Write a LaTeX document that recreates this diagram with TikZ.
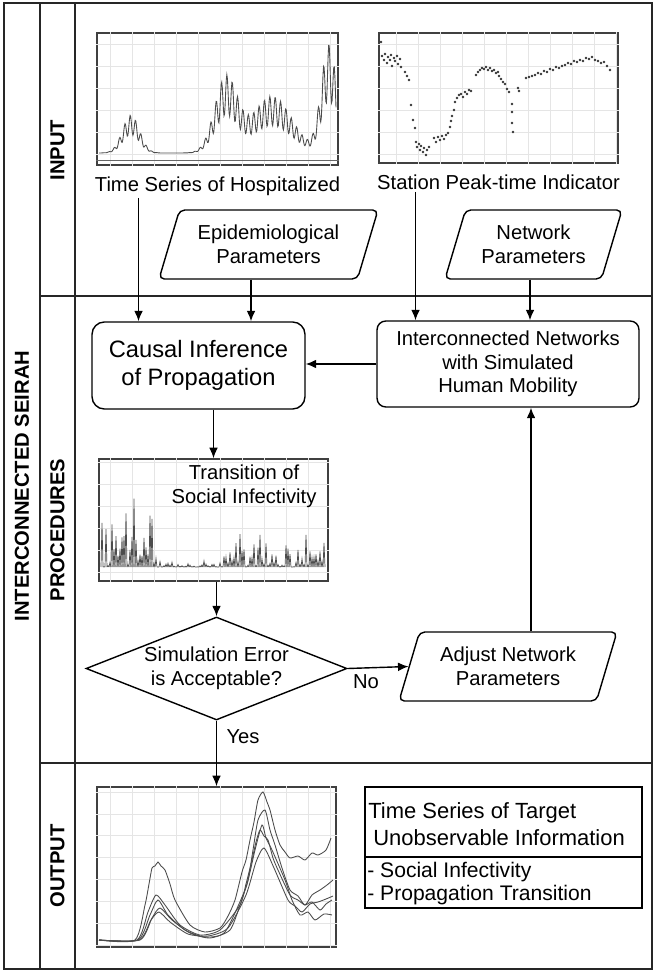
\documentclass[tikz,border=0pt]{standalone}
\usepackage{fontspec}
\setmainfont{Liberation Sans}
\usetikzlibrary{positioning,shapes,arrows.meta}

\begin{document}
\begin{tikzpicture}[x=0.02cm, y=-0.02cm,
    lane/.style={draw=black!85, line width=0.8pt},
    lanelabel/.style={rotate=90, font=\bfseries\fontsize{11.5}{13}\selectfont},
    body/.style={font=\fontsize{11.5}{13.5}\selectfont, align=center},
    box/.style={body, draw, line width=0.8pt, rounded corners=7pt, inner sep=0pt},
    para/.style={body, draw, line width=0.8pt, shape=trapezium, trapezium left angle=62, trapezium right angle=118, trapezium stretches body, rounded corners=3pt, inner sep=0pt, minimum height=1.38cm},
    chartbox/.style={draw=black!75, line width=0.9pt, inner sep=0pt},
    gridline/.style={draw=black!10, line width=0.4pt},
    dataline/.style={draw=black!70, line width=0.5pt},
    arr/.style={draw, line width=0.8pt, -{Latex[length=6pt, width=5pt]}}]
        \useasboundingbox (0,0) rectangle (655,973);
        % swim lanes
        \draw[lane] (4,3) rectangle (652,969);
        \draw[lane] (40,3) -- (40,969) (75,3) -- (75,969) (40,296) -- (652,296) (40,763) -- (652,763);
        \node[lanelabel] (seirah) at (22,486) {INTERCONNECTED SEIRAH};
        \node[lanelabel] (inlane) at (57.5,150) {INPUT};
        \node[lanelabel] (proclane) at (57.5,530) {PROCEDURES};
        \node[lanelabel] (outlane) at (57.5,866) {OUTPUT};

        % input
        \node[chartbox, minimum width=4.82cm, minimum height=2.64cm] (hospchart) at (217.5,99) {};
        \draw[gridline] (hospchart.south west) grid[step=0.44cm] (hospchart.north east);
        \draw[black!60, line width=0.6pt] ([yshift=0.1cm]hospchart.south west) -- ([yshift=0.1cm]hospchart.south east);
        \draw[dataline] plot[domain=99:336, samples=420, variable=\t] (\t, {153 - (28*exp(0-((\t-131)/12)^2) + 55*exp(0-((\t-226)/16)^2) + 42*exp(0-((\t-272)/28)^2) + 80*exp(0-((\t-329)/11)^2))*(1+0.35*sin(mod(\t,5.37)*67))});
        \node[body, inner sep=1pt] (hosplbl) [below=0.18cm of hospchart] {Time Series of Hospitalized};

        \node[chartbox, minimum width=4.78cm, minimum height=2.6cm] (stachart) at (498.5,98) {};
        \draw[gridline] (stachart.south west) grid[step=0.44cm] (stachart.north east);
        \foreach \px/\py in {381/42, 382/56, 384/60, 385/54, 387/63, 388/57, 390/60, 391/55, 392/66, 394/58, 395/61, 397/56, 398/64, 400/59, 401/67,
            405/72, 407/76, 409/80, 411/105, 413/120, 415/128,
            416/142, 417/147, 419/144, 420/150, 421/146, 423/152, 424/148, 426/155, 427/150, 429/147,
            434/138, 436/142, 438/137, 440/140, 442/136, 444/139, 446/135, 448/133,
            450/127, 451/121, 452/116, 454/110, 455/102,
            457/98, 459/95, 461/94, 463/97, 465/92, 467/94, 469/90, 471/91,
            476/75, 478/72, 480/70, 482/68, 484/69, 486/67, 488/70, 490/68, 492/71, 494/70, 496/73, 498/72, 499/76,
            501/79, 503/82, 505/84, 507/89, 509/92,
            512/104, 512/112, 512/123, 513/132,
            518/88, 519/91,
            526/78, 529/77, 532/76, 535/75, 538/73, 541/74, 544/71, 547/72, 550/69, 553/70, 556/67, 559/68, 562/66, 565/65,
            568/63, 571/64, 574/61, 577/62, 580/60, 583/61, 586/58, 589/59, 592/57, 595/60, 598/61, 601/63, 604/62, 607/66, 610/70}
            \fill[black!80] (\px,\py) circle (0.75pt);
        \node[body, inner sep=1pt] (stalbl) [below=0.18cm of stachart] {Station Peak-time Indicator};

        \node[para, minimum width=4.38cm] (epipar) at (268.5,244.5) {Epidemiological\\Parameters};
        \node[para, minimum width=3.54cm] (netpar) at (533.5,244.5) {Network\\Parameters};

        % procedures
        \node[box, font=\fontsize{13.5}{16}\selectfont, minimum width=4.26cm, minimum height=1.74cm] (causal) at (198.5,365.5) {Causal Inference\\of Propagation};
        \node[box, rounded corners=5pt, minimum width=5.24cm, minimum height=1.72cm] (inter) at (508,364) {Interconnected Networks\\with Simulated\\Human Mobility};

        \node[chartbox, minimum width=4.58cm, minimum height=2.44cm] (socchart) at (213.5,520) {};
        \draw[gridline] (socchart.south west) grid[step=0.44cm] (socchart.north east);
        \pgfmathsetseed{5}
        \foreach \sx in {101,103,...,323}{
            \pgfmathsetmacro\sh{((\sx<157) ? 100 : ((\sx<222) ? 7 : 40))*rnd*rnd}
            \draw[dataline, line width=0.4pt] (\sx,567) -- ({\sx+1},{567-\sh}) -- ({\sx+2},567);
        }
        \node[body] (soclbl) at (244,486) {Transition of\\Social Infectivity};

        \node[draw, line width=0.8pt, shape=diamond, aspect=2.5, inner sep=0pt, body, minimum width=5.22cm, minimum height=2.06cm] (diam) at (216.5,668.5) {Simulation Error\\is Acceptable?};
        \node[para, minimum width=4.36cm] (adjpar) at (508,666.5) {Adjust Network\\Parameters};

        % output
        \node[chartbox, minimum width=4.78cm, minimum height=3.2cm] (outchart) at (216.5,867) {};
        \draw[gridline] (outchart.south west) grid[step=0.44cm] (outchart.north east);
        \begin{scope}[dataline]
            \draw plot[smooth, tension=0.4] coordinates {(99,940) (135,940) (145,905) (149,884) (152,868) (155,866) (158,862) (161,866) (165,870) (170,884) (175,900) (190,925) (205,932) (220,928) (228,916) (235,900) (242,872) (246,860) (250,840) (254,822) (258,800) (263,792) (267,802) (270,810) (275,830) (280,845) (285,852) (290,858) (298,856) (305,860) (312,853) (318,855) (326,850) (331,838)};
            \draw plot[smooth, tension=0.4] coordinates {(99,940) (137,940) (148,912) (156,895) (165,905) (180,925) (200,935) (220,930) (240,905) (246,884) (252,860) (256,842) (260,830) (264,836) (268,840) (273,858) (278,870) (290,895) (298,900) (305,905) (312,902) (320,910) (326,904) (332,900)};
            \draw plot[smooth, tension=0.4] coordinates {(99,940) (138,940) (150,915) (158,900) (168,915) (185,930) (205,937) (225,932) (245,890) (250,872) (255,850) (262,825) (266,838) (272,850) (285,880) (292,900) (300,915) (308,912) (315,920) (324,914) (332,915)};
            \draw plot[smooth, tension=0.4] coordinates {(99,940) (140,940) (152,918) (160,908) (172,920) (190,933) (210,938) (230,930) (240,905) (248,880) (253,850) (258,820) (265,810) (270,830) (275,845) (282,868) (290,890) (298,896) (305,905) (312,895) (320,890) (327,885) (333,880)};
            \draw plot[smooth, tension=0.4] coordinates {(99,940) (139,940) (151,920) (159,912) (170,922) (188,934) (208,936) (228,928) (246,895) (256,862) (264,848) (274,868) (288,900) (295,906) (302,912) (310,904) (318,902) (326,899) (333,896)};
        \end{scope}

        \node[draw, line width=0.8pt, minimum width=5.54cm, minimum height=2.42cm, inner sep=0pt] (outinfo) at (503.5,847.5) {};
        \draw[line width=0.8pt] (outinfo.west |- 0,857) -- (outinfo.east |- 0,857);
        \node[anchor=west, align=left, inner sep=0pt, font=\fontsize{12.5}{15.4}\selectfont] (outtitle) at (368,824.5) {Time Series of Target\\\hspace{0.1cm}Unobservable Information};
        \node[anchor=west, align=left, inner sep=0pt, font=\fontsize{12}{13.2}\selectfont] (outlist) at (367,883.5) {- Social Infectivity\\- Propagation Transition};

        % connectors
        \draw[arr] ([xshift=-1.58cm]hosplbl.south) -- ([xshift=-1.58cm]hosplbl.south |- causal.north);
        \draw[arr] ([xshift=-0.35cm]epipar.south) -- ([xshift=-0.35cm]epipar.south |- causal.north);
        \draw[arr] ([xshift=-1.66cm]stalbl.south) -- ([xshift=-1.66cm]stalbl.south |- inter.north);
        \draw[arr] ([xshift=-0.07cm]netpar.south) -- ([xshift=-0.07cm]netpar.south |- inter.north);
        \draw[arr] (inter.west) -- (inter.west -| causal.east);
        \draw[arr] (socchart.north |- causal.south) -- (socchart.north);
        \draw[arr] (diam.north |- socchart.south) -- (diam.north);
        \draw[arr] (diam.east) -- node[body, below, pos=0.3] {No} (adjpar.west);
        \draw[arr] ([xshift=0.46cm]adjpar.north) -- ([xshift=0.46cm]adjpar.north |- inter.south);
        \draw[arr] (diam.south) -- node[body, right=2pt, pos=0.25] {Yes} (diam.south |- outchart.north);
\end{tikzpicture}
\end{document}
